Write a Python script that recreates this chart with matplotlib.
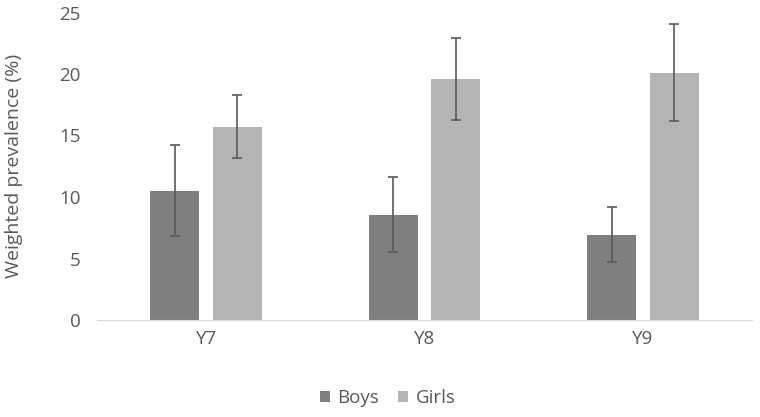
import numpy as np
import matplotlib
matplotlib.use("Agg")
import matplotlib.pyplot as plt

plt.rcParams['font.family'] = ['Open Sans', 'DejaVu Sans']

# Data
years = ['Y7', 'Y8', 'Y9']
boys = [10.5, 8.55, 6.9]
boys_lo = [6.85, 5.5, 4.7]
boys_hi = [14.2, 11.65, 9.2]
girls = [15.7, 19.6, 20.05]
girls_lo = [13.2, 16.3, 16.15]
girls_hi = [18.3, 22.95, 24.05]

text_col = '#595959'
fig = plt.figure(figsize=(7.6, 4.17), dpi=100)
ax = fig.add_axes([97 / 760, 1 - 320 / 417, 655 / 760, 307.5 / 417])

x = np.arange(len(years))
w = 0.224
off = 0.143

b = np.array(boys)
g = np.array(girls)
boys_err = [b - np.array(boys_lo), np.array(boys_hi) - b]
girls_err = [g - np.array(girls_lo), np.array(girls_hi) - g]

err_kw = dict(ecolor='#595959', elinewidth=1.2, capsize=3.5, capthick=1.2)
ax.bar(x - off, boys, w, color='#7f7f7f', label='Boys', yerr=boys_err, error_kw=err_kw)
ax.bar(x + off, girls, w, color='#b4b4b4', label='Girls', yerr=girls_err, error_kw=err_kw)

ax.set_xlim(-0.5, 2.5)
ax.set_ylim(0, 25)
ax.set_yticks([0, 5, 10, 15, 20, 25])
ax.set_xticks(x)
ax.set_xticklabels(years)

for s in ['top', 'right', 'left']:
    ax.spines[s].set_visible(False)
ax.spines['bottom'].set_color('#d9d9d9')
ax.tick_params(axis='both', length=0, labelsize=13.5, colors=text_col)
ax.tick_params(axis='y', pad=12)
ax.tick_params(axis='x', pad=7)

ax.set_ylabel('Weighted prevalence (%)', fontsize=14, color=text_col, labelpad=22)
ax.yaxis.set_label_coords(-0.113, 0.5)

fig.legend(loc='center', bbox_to_anchor=(0.51, 1 - 398 / 417), ncol=2, frameon=False,
           fontsize=13.5, labelcolor=text_col, handlelength=0.55, handleheight=0.55,
           handletextpad=0.4, columnspacing=1.0)

fig.savefig('out.png', dpi=100)
